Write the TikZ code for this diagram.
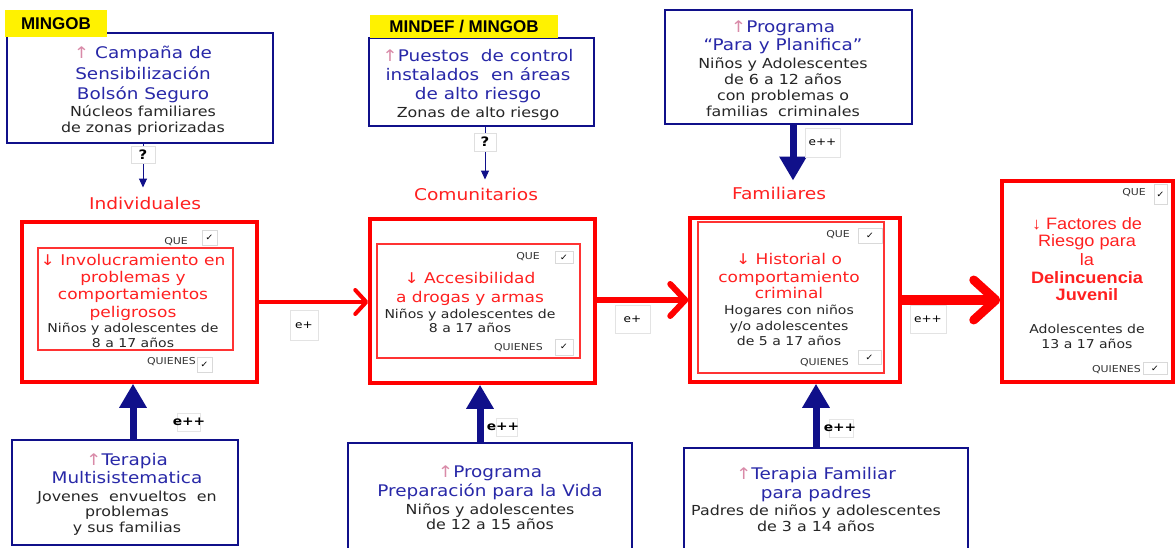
\documentclass[tikz,border=0pt]{standalone}
\usepackage{fontspec}
\setmainfont[FakeStretch=1.15]{DejaVu Sans}
\newfontfamily\arialf{Liberation Sans}
\newfontfamily\arialw[FakeStretch=1.1]{Liberation Sans}
\usetikzlibrary{arrows.meta}
\definecolor{navy}{HTML}{10108A}
\definecolor{ttblue}{HTML}{2828A8}
\definecolor{tred}{HTML}{FF2020}
\definecolor{arrpink}{HTML}{D98AA8}
\newcommand\txB{\color{ttblue}\fontsize{16}{16}\selectfont}
\newcommand\txK{\color{black!85}\fontsize{13.8}{16}\selectfont}
\newcommand\txS{\color{black!85}\fontsize{12.2}{15}\selectfont}
\newcommand\txR{\color{tred}\fontsize{14.8}{15}\selectfont}
\newcommand\txF{\arialw\color{tred}\fontsize{16.5}{15}\selectfont}
\newcommand\upar{{\color{arrpink}↑}}
\newcommand\dnar{↓}
\tikzset{
  bluebox/.style={draw=navy, line width=2.5pt, fill=white, inner sep=0pt},
  redbox/.style={draw=red, line width=3.5pt, inner sep=0pt},
  innerred/.style={draw=red!80, line width=1.2pt, inner sep=0pt},
  btext/.style={inner sep=0pt, align=center, font=\fontsize{13.8}{16}\selectfont},
  rtext/.style={inner sep=0pt, align=center, font=\fontsize{12.2}{15}\selectfont},
  ylab/.style={fill=yellow, inner sep=0pt, font=\arialf\bfseries\fontsize{17}{18}\selectfont},
  qbox/.style={draw=gray!25, line width=0.8pt, fill=white, inner sep=0pt, font=\bfseries\fontsize{13}{14}\selectfont},
  ebox/.style={draw=gray!22, line width=0.8pt, fill=white, inner sep=0pt, font=\fontsize{10.5}{12}\selectfont},
  eboldlab/.style={inner sep=0pt, font=\bfseries\fontsize{12}{13}\selectfont},
  chk/.style={draw=gray!30, line width=0.7pt, fill=white, inner sep=0pt, font=\fontsize{8.5}{10}\selectfont},
  qlab/.style={inner sep=0pt, anchor=east, text=black!80, font=\fontsize{9.5}{10}\selectfont},
  seclab/.style={inner sep=0pt, text=tred, font=\fontsize{16.2}{17}\selectfont},
  bigarrow/.style={navy, line width=7pt, -{Triangle[width=26pt,length=24pt]}},
  thinarrow/.style={navy, line width=1pt, -{Triangle[width=8pt,length=9pt]}},
  redA/.style={red, line width=4pt, -{Straight Barb[round,length=11pt,width=24pt]}},
  redB/.style={red, line width=6pt, -{Straight Barb[round,length=15pt,width=32pt]}},
  redC/.style={red, line width=9pt, -{Straight Barb[round,length=22pt,width=40pt]}},
}
\begin{document}
\begin{tikzpicture}[x=1pt,y=-1pt]
\useasboundingbox[fill=white] (0,0) rectangle (1176,548);

% ---------- top boxes ----------
\node[bluebox, minimum width=266pt, minimum height=110pt] (b1) at (140,88) {};
\node[btext] (b1t) at (143,91)
 {\txB\upar\ Campaña de\\[4pt]\txB Sensibilización\\[4pt]\txB Bolsón Seguro\\[1pt]\txK Núcleos familiares\\\txK de zonas priorizadas};
\node[ylab, minimum width=102pt, minimum height=27pt] (y1) at (56,23.5) {MINGOB};

\node[bluebox, minimum width=225pt, minimum height=88pt] (b2) at (481.5,82) {};
\node[btext] (b2t) at (478,85)
 {\txB\upar Puestos\ \ de control\\[3pt]\txB instalados\ \ en áreas\\[3pt]\txB de alto riesgo\\[2pt]\txK Zonas de alto riesgo};
\node[ylab, minimum width=188pt, minimum height=23pt] (y2) at (464,26.5) {MINDEF / MINGOB};

\node[bluebox, minimum width=247pt, minimum height=114pt] (b3) at (788.5,67) {};
\node[btext] (b3t) at (783,69)
 {\txB\upar Programa\\[2pt]\txB “Para y Planifica”\\[2pt]\txK Niños y Adolescentes\\\txK de 6 a 12 años\\\txK con problemas\ o\\\txK familias\ \ criminales};

% ---------- section labels ----------
\node[seclab] (l1) at (145,203) {Individuales};
\node[seclab] (l2) at (476,194) {Comunitarios};
\node[seclab] (l3) at (779,193) {Familiares};

% ---------- red boxes ----------
\node[redbox, minimum width=235pt, minimum height=160pt] (r1) at (139.5,302) {};
\node[innerred, minimum width=195pt, minimum height=102pt] (r1i) at (135.5,299) {};
\node[rtext] (r1t) at (133,301)
 {\txR\dnar\ Involucramiento\ en\\[2pt]\txR problemas\ y\\[2pt]\txR comportamientos\\[3pt]\txR peligrosos\\\txS Niños y adolescentes\ de\\\txS 8 a 17 años};
\node[qlab] (q1) at (188,242) {QUE};
\node[chk, minimum size=15pt] (c1) at (209.5,237.5) {✓};
\node[qlab] (w1) at (196,362) {QUIENES};
\node[chk, minimum size=15pt] (cw1) at (204.5,364.5) {✓};

\node[redbox, minimum width=225pt, minimum height=164pt] (r2) at (482.5,301) {};
\node[innerred, minimum width=203pt, minimum height=114pt] (r2i) at (478.5,301) {};
\node[rtext] (r2t) at (470,302)
 {\txR\dnar\ Accesibilidad\\[4pt]\txR a drogas y armas\\[1pt]\txS Niños y adolescentes\ de\\[-1pt]\txS 8 a 17 años};
\node[qlab] (q2) at (540,257) {QUE};
\node[chk, minimum width=18pt, minimum height=12pt] (c2) at (564,257.5) {✓};
\node[qlab] (w2) at (543,348) {QUIENES};
\node[chk, minimum width=18pt, minimum height=16pt] (cw2) at (564,347) {✓};

\node[redbox, minimum width=210pt, minimum height=164pt] (r3) at (795,300) {};
\node[innerred, minimum width=186pt, minimum height=151pt] (r3i) at (791,297.5) {};
\node[rtext] (r3t) at (789,299.5)
 {\txR\dnar\ Historial o\\[3pt]\txR comportamiento\\[1pt]\txR criminal\\[1pt]\txS Hogares con niños\\[1pt]\txS y/o adolescentes\\\txS de 5 a 17 años};
\node[qlab] (q3) at (850,235) {QUE};
\node[chk, minimum width=24pt, minimum height=15pt] (c3) at (870,236) {✓};
\node[qlab] (w3) at (849,363) {QUIENES};
\node[chk, minimum width=23pt, minimum height=14pt] (cw3) at (869.5,357.5) {✓};

\node[redbox, minimum width=171pt, minimum height=201pt] (r4) at (1087.5,281.5) {};
\node[rtext] (r4t) at (1087,283)
 {\txF↓ Factores de\\[2pt]\txF Riesgo para\\[2pt]\txF la\\[3pt]\txF\bfseries Delincuencia\\[2pt]\txF\bfseries Juvenil\\[18pt]\txS Adolescentes\ de\\\txS 13 a 17 años};
\node[qlab] (q4) at (1146,193) {QUE};
\node[chk, minimum width=13pt, minimum height=20pt] (c4) at (1160.5,194.5) {✓};
\node[qlab] (w4) at (1141,370) {QUIENES};
\node[chk, minimum width=24pt, minimum height=12pt] (cw4) at (1155,368.5) {✓};

% ---------- bottom boxes ----------
\node[bluebox, minimum width=226pt, minimum height=105pt] (bb1) at (125,492.5) {};
\node[btext] (bb1t) at (127,494)
 {\txB\upar Terapia\\[2pt]\txB Multisistematica\\[2pt]\txK Jovenes\ \ envueltos\ \ en\\[-1pt]\txK problemas\\\txK y sus familias};
\node[bluebox, minimum width=284pt, minimum height=106pt] (bb2) at (490,496) {};
\node[btext] (bb2t) at (490,498)
 {\txB\upar Programa\\[2pt]\txB Preparación para la Vida\\[2pt]\txK Niños y adolescentes\\[-1pt]\txK de 12 a 15 años};
\node[bluebox, minimum width=284pt, minimum height=104pt] (bb3) at (826,500) {};
\node[btext] (bb3t) at (816,500)
 {\txB\upar Terapia Familiar\\[3pt]\txB para padres\\[1pt]\txK Padres de niños y adolescentes\\\txK de 3 a 14 años};

% ---------- connectors ----------
\draw[thinarrow, shorten >=9pt] (b1.south -| 143,0) -- (l1.north -| 143,0);
\node[qbox, minimum width=24pt, minimum height=17pt] (qm1) at (143,155) {?};
\draw[thinarrow, shorten >=8pt] (b2.south -| 485,0) -- (l2.north -| 485,0);
\node[qbox, minimum width=22pt, minimum height=18pt] (qm2) at (485,142) {?};

\draw[bigarrow, shorten >=6pt] (b3.south -| 793,0) -- (l3.north -| 793,0);
\node[ebox, minimum width=35pt, minimum height=29pt] (e4) at (822.5,142.5) {e++};

\draw[redA] (r1.east) -- (r1.east -| r2.west);
\node[ebox, minimum width=28pt, minimum height=30pt] (e1) at (304,325) {e+};
\draw[redB] (r2.east |- r3.center) -- (r3.west);
\node[ebox, minimum width=35pt, minimum height=28pt] (e2) at (632.5,319) {e+};
\draw[redC] (r3.east) -- (r3.east -| r4.west);
\node[ebox, minimum width=36pt, minimum height=28pt] (e3) at (928,319) {e++};

\draw[bigarrow] (bb1.north -| 133,0) -- (r1.south -| 133,0);
\draw[draw=gray!20, line width=0.6pt] (177,413) rectangle (200,431);
\node[eboldlab] (e5) at (189,422) {e++};
\draw[bigarrow] (bb2.north -| 480,0) -- (r2.south -| 480,0);
\draw[draw=gray!20, line width=0.6pt] (496,418) rectangle (517,436);
\node[eboldlab] (e6) at (503,427) {e++};
\draw[bigarrow] (bb3.north -| 816,0) -- (r3.south -| 816,0);
\draw[draw=gray!20, line width=0.6pt] (829,419) rectangle (853,437);
\node[eboldlab] (e7) at (840,428) {e++};
\end{tikzpicture}
\end{document}
